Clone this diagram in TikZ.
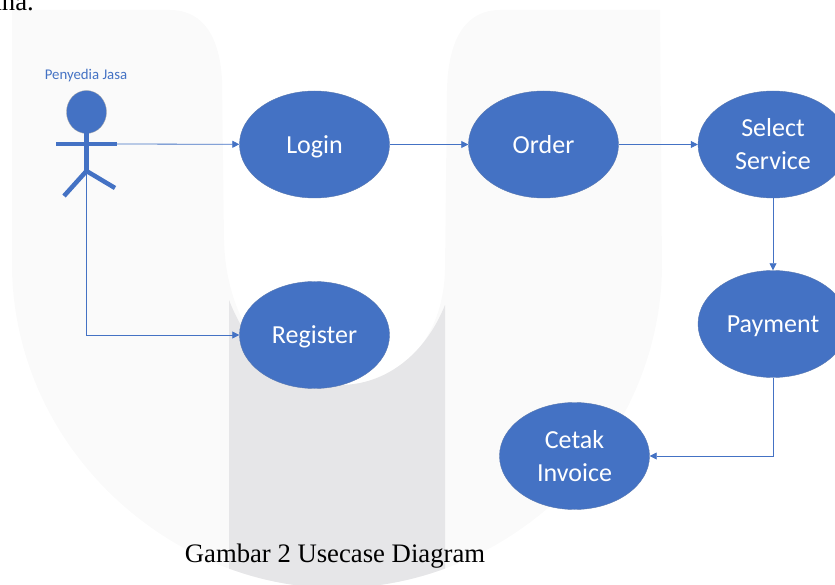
\documentclass[tikz,border=0pt]{standalone}
\usepackage{fontspec}
\setmainfont{Liberation Serif}
\newfontfamily\uifont{Carlito}
\usetikzlibrary{arrows.meta,shapes.geometric}
\definecolor{ublue}{HTML}{4472C4}
\definecolor{wmlight}{HTML}{FAFAFA}
\definecolor{wmdark}{HTML}{E6E6E8}
\newcommand{\nodepth}[1]{\raisebox{0pt}[\height][0pt]{#1}}
\tikzset{
  usecase/.style={ellipse,fill=ublue,draw=ublue!70!gray,line width=.4pt,minimum width=150pt,minimum height=107pt,inner sep=0pt,align=center,text=white,font=\uifont\fontsize{26}{33}\selectfont},
  link/.style={draw=ublue,line width=.8pt,-{Triangle[length=7pt,width=7pt]}},
  figure/.style={draw=ublue,line width=4.5pt},
  doc/.style={text=black,font=\fontsize{26.7}{30}\selectfont,inner sep=0pt}
}
\begin{document}
\begin{tikzpicture}[x=1pt,y=-1pt]
\useasboundingbox (0,0) rectangle (835,585);
% watermark
\begin{scope}
\clip (0,0) rectangle (835,585);
\fill[wmlight] (12,10) -- (170,10) .. controls (205,10) and (220,40) .. (222,80) -- (224,240)
 .. controls (226,320) and (270,385) .. (340,385) .. controls (400,385) and (443,340) .. (445,270)
 -- (447,90) .. controls (448,40) and (465,10) .. (500,10) -- (660,10) -- (662,270)
 .. controls (658,450) and (504,588) .. (337,588) .. controls (170,588) and (16,450) .. (12,270) -- cycle;
\clip (12,270) .. controls (16,450) and (170,588) .. (337,588) .. controls (504,588) and (658,450) .. (662,270) -- cycle;
\fill[wmdark] (229,300) .. controls (250,355) and (290,385) .. (340,385) .. controls (385,385) and (425,355) .. (445,305)
 -- (445,600) -- (229,600) -- cycle;
\end{scope}
% use cases
\node[usecase] (login) at (314.5,144.5) {\nodepth{Login}};
\node[usecase] (order) at (543.5,144.5) {Order};
\node[usecase] (select) at (773,144.5) {Select\\Service};
\node[usecase] (register) at (314.5,335) {\nodepth{Register}};
\node[usecase] (payment) at (773,324) {\nodepth{Payment}};
\node[usecase] (invoice) at (574.5,456) {Cetak\\Invoice};
% actor
\node[text=ublue,font=\uifont\fontsize{14.8}{17}\selectfont,inner sep=0pt] (actorlabel) at (86,76) {Penyedia Jasa};
\fill[ublue,draw=gray!70,line width=.3pt] (86.5,112) circle[x radius=20,y radius=21.5];
\coordinate (neck) at (86.5,133);
\coordinate (hip) at (86.5,171);
\draw[figure] (neck) -- (hip);
\draw[figure] (56,144) -- (117,144);
\draw[figure] (64,196) -- (hip) -- (115,188);
\coordinate (armend) at (117,144);
\coordinate (hipend) at (86.5,171);
\coordinate (corner) at (86.5,335);
% connectors
\draw[link] (armend) -- (login);
\draw[link] (hipend) -- (corner) -- (register);
\draw[link] (login) -- (order);
\draw[link] (order) -- (select);
\draw[link] (select) -- (payment);
\draw[link] (payment.south) |- (invoice.east);
% document text
\node[doc,anchor=base east] (top) at (34,11) {ana.};
\node[doc,anchor=base] (caption) at (335,562) {Gambar 2 Usecase Diagram};
\end{tikzpicture}
\end{document}
